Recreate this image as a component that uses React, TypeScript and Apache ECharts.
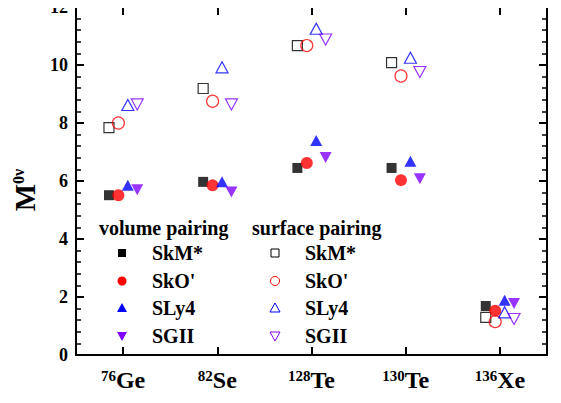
import React, { useEffect, useRef } from "react";
import * as echarts from "echarts";

const massNumbers = ["76", "82", "128", "130", "136"];
const elements = ["Ge", "Se", "Te", "Te", "Xe"];
const categories = massNumbers.map((m, i) => m + elements[i]);

const yTicks = { min: 0, max: 12, interval: 2 };

const volSkM = [5.51, 5.97, 6.45, 6.45, 1.69];
const volSkO = [5.51, 5.85, 6.62, 6.03, 1.53];
const volSLy4 = [5.85, 5.97, 7.4, 6.68, 1.89];
const volSGII = [5.7, 5.62, 6.81, 6.08, 1.78];
const surfSkM = [7.84, 9.19, 10.67, 10.08, 1.3];
const surfSkO = [8.0, 8.75, 10.67, 9.62, 1.15];
const surfSLy4 = [8.62, 9.92, 11.25, 10.25, 1.47];
const surfSGII = [8.64, 8.64, 10.88, 9.76, 1.24];

const forceNames = ["SkM*", "SkO'", "SLy4", "SGII"];
const colors = ["#000000", "#ff0000", "#0000ff", "#8000ff"];
const offsets = [-0.15, -0.05, 0.05, 0.15];

const FONT = "Liberation Serif";
const INV_TRI = "path://M0,0L12,0L6,11Z";

function buildOption() {
  const mkAxisLine = () => ({ show: true, onZero: false, lineStyle: { color: "#000", width: 2, type: "solid" } });
  const mkTick = () => ({ show: true, inside: true, length: 8, lineStyle: { width: 2, color: "#000" } });
  const mkMinor = () => ({ show: true, splitNumber: 5, length: 5, lineStyle: { width: 1.5, color: "#000" } });

  const volume = [volSkM, volSkO, volSLy4, volSGII];
  const surface = [surfSkM, surfSkO, surfSLy4, surfSGII];
  const symbols = ["rect", "circle", "triangle", INV_TRI];
  const sizes: any[] = [[10, 10], 12, [12, 11], [12, 11]];

  const series: any[] = [];
  surface.forEach((vals, k) => {
    series.push({
      type: "scatter",
      name: forceNames[k] + " (surface)",
      xAxisIndex: 1,
      yAxisIndex: 0,
      symbol: symbols[k],
      symbolSize: sizes[k],
      itemStyle: { color: "rgba(255,255,255,0)", borderColor: colors[k], borderWidth: 1.2 },
      data: vals.map((v, i) => [i + offsets[k], v]),
    });
  });
  volume.forEach((vals, k) => {
    series.push({
      type: "scatter",
      name: forceNames[k] + " (volume)",
      xAxisIndex: 1,
      yAxisIndex: 0,
      symbol: symbols[k],
      symbolSize: sizes[k],
      itemStyle: { color: colors[k] },
      data: vals.map((v, i) => [i + offsets[k], v]),
    });
  });

  const legendGraphic: any[] = [];
  const rowsY = [253, 281, 308, 336];
  const cols = [
    { mx: 122, tx: 152, title: "volume pairing", titleX: 99, filled: true },
    { mx: 275, tx: 305, title: "surface pairing", titleX: 252, filled: false },
  ];
  const txtStyle = { fontFamily: FONT, fontWeight: "bold", fontSize: 20, fill: "#000" };
  cols.forEach((c) => {
    legendGraphic.push({
      type: "text",
      x: c.titleX,
      y: 228,
      style: { ...txtStyle, text: c.title, verticalAlign: "middle", align: "left" },
    });
    forceNames.forEach((n, k) => {
      const cy = rowsY[k];
      const st = c.filled
        ? { fill: colors[k], stroke: "none" }
        : { fill: "none", stroke: colors[k], lineWidth: 1 };
      let shape: any;
      if (k === 0) shape = { type: "rect", shape: { x: c.mx - 4, y: cy - 4, width: 8, height: 8 }, style: st };
      else if (k === 1) shape = { type: "circle", shape: { cx: c.mx, cy, r: 4.5 }, style: st };
      else if (k === 2)
        shape = { type: "polygon", shape: { points: [[c.mx - 5, cy + 4], [c.mx + 5, cy + 4], [c.mx, cy - 5]] }, style: st };
      else
        shape = { type: "polygon", shape: { points: [[c.mx - 5, cy - 4], [c.mx + 5, cy - 4], [c.mx, cy + 5]] }, style: st };
      legendGraphic.push(shape);
      legendGraphic.push({
        type: "text",
        x: c.tx,
        y: cy,
        style: { ...txtStyle, text: n, verticalAlign: "middle", align: "left" },
      });
    });
  });

  return {
    animation: false,
    backgroundColor: "#fff",
    grid: {
      left: 76,
      right: 14,
      top: 7,
      bottom: 48,
      containLabel: false,
      outerBoundsMode: "none",
      show: true,
      borderColor: "#000",
      borderWidth: 2,
      backgroundColor: "transparent",
    },
    xAxis: [
      {
        type: "category",
        position: "bottom",
        data: categories,
        boundaryGap: true,
        axisLine: mkAxisLine(),
        axisTick: { ...mkTick(), alignWithLabel: true, interval: 0 },
        axisLabel: {
          interval: 0,
          margin: 13,
          formatter: (_v: string, i: number) => `{sup|${massNumbers[i]}}{main|${elements[i]}}`,
          rich: {
            sup: { fontFamily: FONT, fontWeight: "bold", fontSize: 15, color: "#000", verticalAlign: "top", lineHeight: 15 },
            main: { fontFamily: FONT, fontWeight: "bold", fontSize: 24, color: "#000", lineHeight: 24 },
          },
        },
        splitLine: { show: false },
      },
      {
        type: "value",
        min: -0.5,
        max: 4.5,
        position: "bottom",
        axisLine: { show: false, onZero: false },
        axisTick: { show: false },
        axisLabel: { show: false },
        splitLine: { show: false },
      },
      {
        type: "category",
        position: "top",
        data: categories,
        boundaryGap: true,
        axisLine: mkAxisLine(),
        axisTick: { ...mkTick(), alignWithLabel: true, interval: 0 },
        axisLabel: { show: false },
        splitLine: { show: false },
      },
    ],
    yAxis: [
      {
        type: "value",
        position: "left",
        min: yTicks.min,
        max: yTicks.max,
        interval: yTicks.interval,
        axisLine: mkAxisLine(),
        axisTick: mkTick(),
        minorTick: mkMinor(),
        axisLabel: { margin: 8, fontFamily: FONT, fontWeight: "bold", fontSize: 18, lineHeight: 12, color: "#000" },
        splitLine: { show: false },
        name: "{m|M}{s|0ν}",
        nameLocation: "middle",
        nameRotate: 90,
        nameGap: 35,
        nameTextStyle: {
          padding: [0, 18, 0, 0],
          rich: {
            m: { fontFamily: FONT, fontWeight: "bold", fontSize: 29, color: "#000", lineHeight: 29 },
            s: { fontFamily: FONT, fontWeight: "bold", fontSize: 16, color: "#000", verticalAlign: "top", lineHeight: 16 },
          },
        },
      },
      {
        type: "value",
        position: "right",
        min: yTicks.min,
        max: yTicks.max,
        interval: yTicks.interval,
        axisLine: mkAxisLine(),
        axisTick: mkTick(),
        minorTick: mkMinor(),
        axisLabel: { show: false },
        splitLine: { show: false },
      },
    ],
    graphic: legendGraphic,
    series,
  };
}

function Chart() {
  const ref = useRef<HTMLDivElement>(null);
  useEffect(() => {
    if (!ref.current) return;
    const chart = echarts.init(ref.current, undefined, { renderer: "svg" });
    chart.setOption(buildOption() as any);
    return () => chart.dispose();
  }, []);
  return <div ref={ref} style={{ width: 561, height: 403 }} />;
}

export default function App() {
  return (
    <div style={{ margin: -8, width: 561, height: 403 }}>
      <Chart />
    </div>
  );
}
